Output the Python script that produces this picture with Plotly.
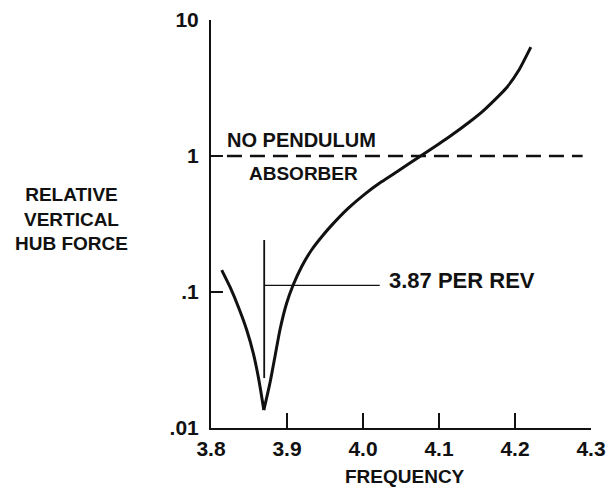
import plotly.graph_objects as go

# Curve: relative vertical hub force vs frequency (per rev)
freq = [3.8141, 3.825, 3.8359, 3.847, 3.8557, 3.8622, 3.8667, 3.8695,
        3.8775, 3.8841, 3.8907, 3.8995, 3.9081, 3.9192, 3.9323, 3.9476,
        3.9586, 3.9804, 4.0024, 4.0243, 4.0461, 4.0703, 4.0987, 4.1145,
        4.14, 4.1578, 4.1886, 4.205, 4.2208]
force = [0.145, 0.109, 0.078, 0.0526, 0.0354, 0.0238, 0.0170, 0.01355,
         0.02133, 0.03342, 0.0526, 0.0826, 0.1125, 0.1535, 0.2037, 0.2624,
         0.309, 0.412, 0.525, 0.646, 0.776, 0.955, 1.216, 1.396,
         1.778, 2.138, 3.162, 4.266, 6.31]

# Reference level: no pendulum absorber
ref_freq = [3.821, 4.289]
ref_force = [1.0, 1.0]

# Marker for 3.87 per rev
mark_v_freq = [3.87, 3.87]
mark_v_force = [0.0233, 0.241]
mark_h_freq = [3.87, 4.022]
mark_h_force = [0.112, 0.112]

x_ticks = [3.8, 3.9, 4.0, 4.1, 4.2, 4.3]
x_tick_text = ["3.8", "3.9", "4.0", "4.1", "4.2", "4.3"]
y_ticks = [0.01, 0.1, 1, 10]
y_tick_text = [".01", ".1", "1", "10"]

FONT = "Liberation Sans"
ink = "#111111"

fig = go.Figure()
cut = force.index(min(force))
for xs, ys in ((freq[:cut + 1], force[:cut + 1]), (freq[cut:], force[cut:])):
    fig.add_trace(go.Scatter(x=xs, y=ys, mode="lines",
                             line=dict(color=ink, width=3, shape="spline", smoothing=0.6),
                             hoverinfo="skip"))
fig.add_trace(go.Scatter(x=ref_freq, y=ref_force, mode="lines",
                         line=dict(color=ink, width=2.5, dash="15px,8px"),
                         hoverinfo="skip"))
fig.add_trace(go.Scatter(x=mark_v_freq, y=mark_v_force, mode="lines",
                         line=dict(color=ink, width=1.8), hoverinfo="skip"))
fig.add_trace(go.Scatter(x=mark_h_freq, y=mark_h_force, mode="lines",
                         line=dict(color=ink, width=1.2), hoverinfo="skip"))

bold = dict(family=FONT, color=ink, weight="bold")

fig.update_layout(
    template="none",
    width=612, height=492,
    margin=dict(l=211, r=21, t=20, b=64, autoexpand=False),
    paper_bgcolor="white", plot_bgcolor="white",
    showlegend=False,
    xaxis=dict(range=[3.8, 4.3], tickvals=x_ticks, ticktext=x_tick_text,
               ticks="inside", ticklen=15, tickwidth=2, tickcolor=ink,
               showline=True, linewidth=2, linecolor=ink, showgrid=False,
               zeroline=False, tickfont=dict(size=21, **bold),
               ticklabelstandoff=1, automargin=False),
    yaxis=dict(type="log", range=[-2, 1], tickvals=y_ticks, ticktext=y_tick_text,
               ticks="inside", ticklen=12, tickwidth=2, tickcolor=ink,
               showline=True, linewidth=2, linecolor=ink, showgrid=False,
               zeroline=False, tickfont=dict(size=21, **bold),
               ticklabelstandoff=6, automargin=False),
    annotations=[
        dict(text="RELATIVE<br>VERTICAL<br>HUB FORCE", xref="paper", yref="paper",
             x=-0.368, y=0.512, xanchor="center", yanchor="middle",
             showarrow=False, font=dict(size=19, **bold), align="center"),
        dict(text="FREQUENCY", xref="x", yref="paper", x=4.0546, y=-0.12,
             xanchor="center", yanchor="middle", showarrow=False,
             font=dict(size=19, **bold)),
        dict(text="NO PENDULUM", xref="x", yref="y", x=3.9197, y=0.118,
             xanchor="center", yanchor="middle", showarrow=False,
             font=dict(size=20, **bold)),
        dict(text="ABSORBER", xref="x", yref="y", x=3.9215, y=-0.125,
             xanchor="center", yanchor="middle", showarrow=False,
             font=dict(size=19, **bold)),
        dict(text="3.87 PER REV", xref="x", yref="y", x=4.0312, y=-0.912,
             xanchor="left", yanchor="middle", showarrow=False,
             font=dict(size=22, **bold)),
    ],
)

fig.write_html("out.html", config={"displayModeBar": False},
               post_script="document.body.style.margin='0';")
